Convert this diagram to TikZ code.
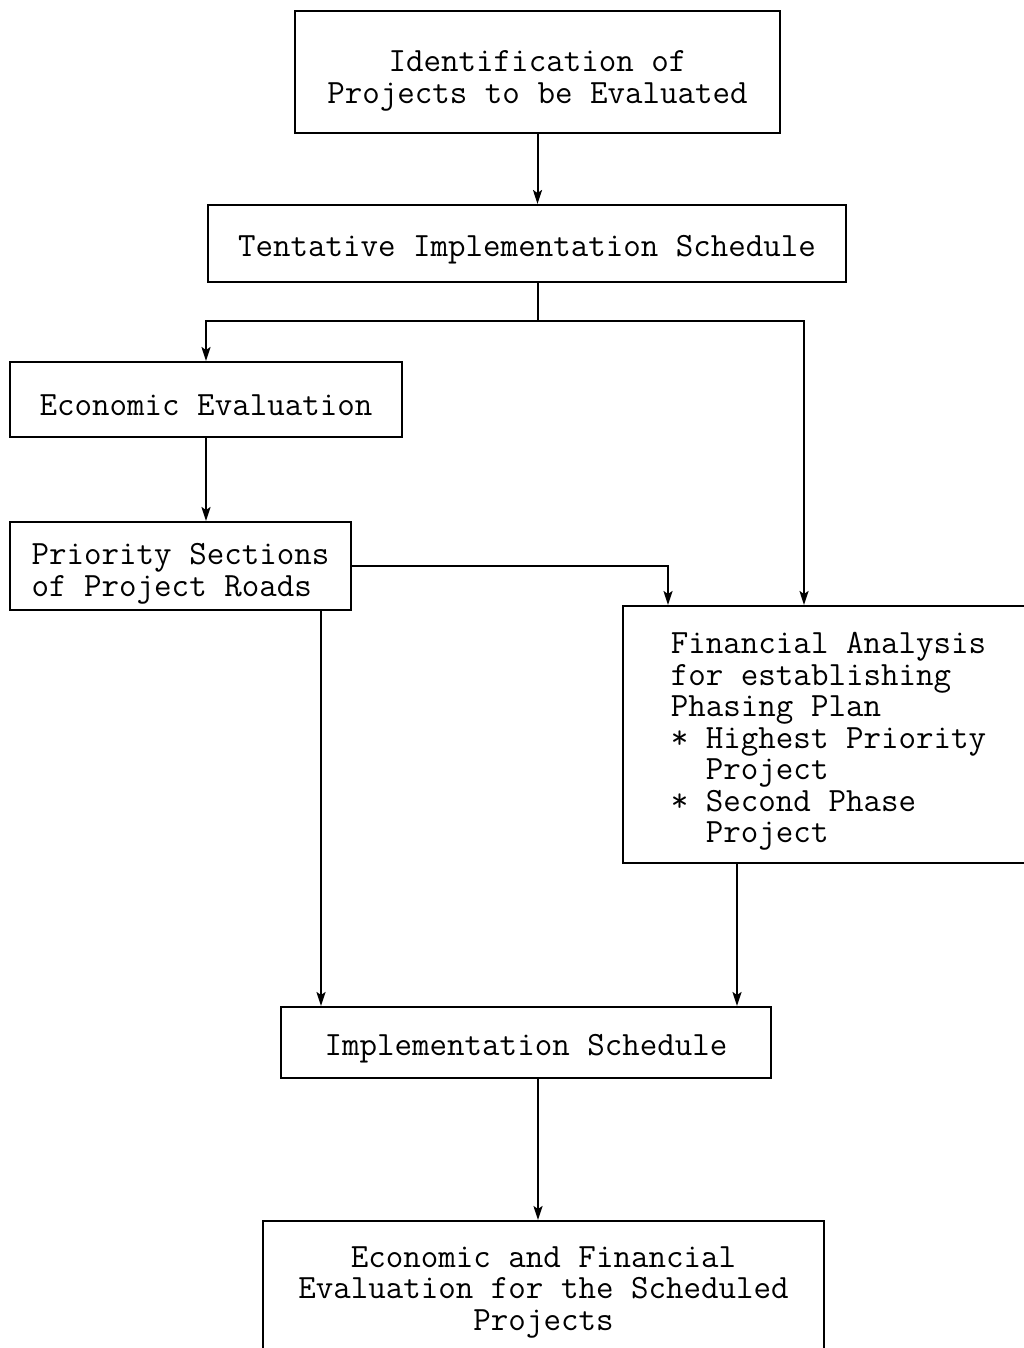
\documentclass[tikz,border=0pt]{standalone}
\usepackage{fontspec}
\usepackage{tikz}
\usetikzlibrary{arrows.meta}
\newcommand{\chartfont}{\fontsize{34}{31.5}\selectfont\ttfamily}
\newcommand{\topgap}[1][33pt]{\rule{0pt}{#1}}
\tikzset{
  box/.style={draw, line width=2pt, inner sep=0pt, font=\chartfont, execute at begin node=\topgap},
  arr/.style={line width=2pt, -{Stealth[length=14pt, width=9pt, inset=3pt]}}
}
\begin{document}
\begin{tikzpicture}[x=1pt, y=-1pt]
\clip (0,0) rectangle (1024,1348);
\fill[white] (0,0) rectangle (1024,1348);

\node[box, align=center, minimum width=485, minimum height=122] (ident) at (537.5,72) {\topgap[39pt]Identification of\\Projects to be Evaluated};
\node[box, minimum width=638, minimum height=77] (tent) at (527,243.5) {Tentative Implementation Schedule};
\node[box, minimum width=392, minimum height=75] (econ) at (206,399.5) {Economic Evaluation};
\node[box, align=left, minimum width=341, minimum height=88] (prio) at (180.5,566) {\topgap[37pt]Priority Sections\\of Project Roads};
\node[box, align=left, anchor=north west, minimum width=411, minimum height=257] (fin) at (622,605)
  {\topgap[35pt]Financial Analysis\\for establishing\\Phasing Plan\\* Highest Priority\\\ \ Project\\* Second Phase\\\ \ Project};
\node[box, minimum width=490, minimum height=71] (impl) at (526,1042.5) {Implementation Schedule};
\node[box, align=center, minimum width=561, minimum height=134] (final) at (543.5,1288)
  {\topgap[29pt]Economic and Financial\\Evaluation for the Scheduled\\Projects};

\coordinate (split) at (538,321);

\draw[arr] (ident.south) -- (ident.south |- tent.north);
\draw[line width=2pt] (tent.south -| split) -- (split);
\draw[arr] (split) -| (econ.north);
\draw[arr] (split) -| ([xshift=182]fin.north west);
\draw[arr] (econ.south) -- (econ.south |- prio.north);
\draw[arr] (prio.east) -| ([xshift=46]fin.north west);
\draw[arr] ([xshift=-31]prio.south east) -- ([xshift=-31]prio.south east |- impl.north);
\draw[arr] ([xshift=115]fin.south west) -- ([xshift=115]fin.south west |- impl.north);
\draw[arr] (impl.south -| split) -- (split |- final.north);
\end{tikzpicture}
\end{document}
